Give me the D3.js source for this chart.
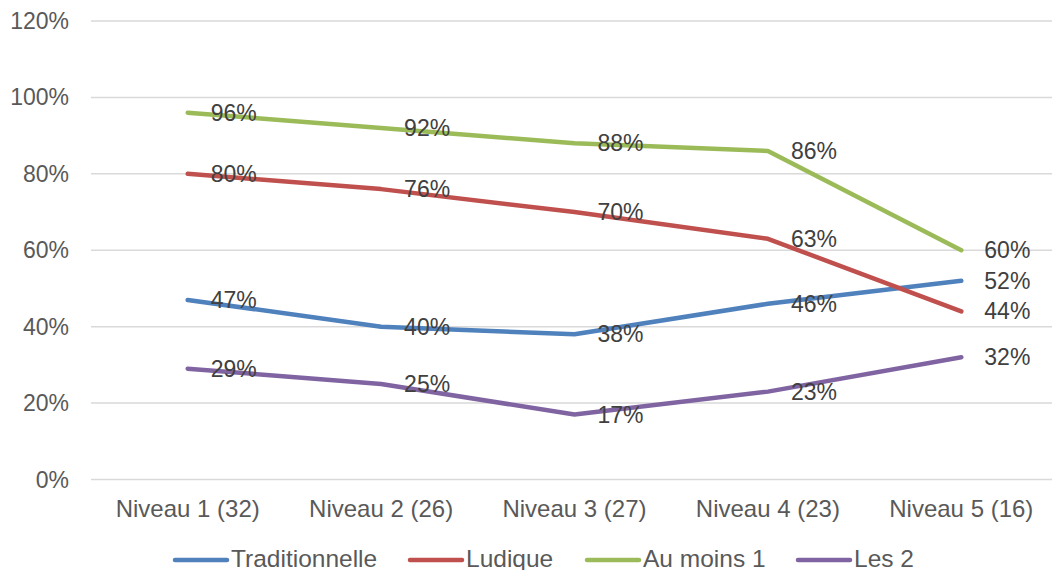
<!DOCTYPE html>
<html>
<head>
  <meta charset="UTF-8">
  <title></title>
  <style>
    body{ margin:0; background:#fff; font-family: Arial, 'Liberation Sans', sans-serif; }
    .grid line{ stroke:#d9d9d9; stroke-width:1.5px; }
    .ytick{ fill:#595959; font-size:23px; }
    .xtick{ fill:#595959; font-size:24px; }
    .legend text{ fill:#595959; font-size:24.5px; }
    .dlabel{ fill:#404040; font-size:23px; }
    .series{ fill:none; stroke-width:4.5px; stroke-linecap:round; stroke-linejoin:round; }
  </style>
</head>
<body>
  <script src="https://cdnjs.cloudflare.com/ajax/libs/d3/7.8.5/d3.min.js"></script>
  <script>
/// data
var categories = ["Niveau 1 (32)", "Niveau 2 (26)", "Niveau 3 (27)", "Niveau 4 (23)", "Niveau 5 (16)"];
var seriesNames = ["Traditionnelle", "Ludique", "Au moins 1", "Les 2"];
var traditionnelle = [47, 40, 38, 46, 52];
var ludique = [80, 76, 70, 63, 44];
var auMoins1 = [96, 92, 88, 86, 60];
var les2 = [29, 25, 17, 23, 32];
var yTicks = [0, 20, 40, 60, 80, 100, 120];
var colors = ["#4f81bd", "#c0504d", "#9bbb59", "#8064a2"];

var series = [traditionnelle, ludique, auMoins1, les2];

/// chart
var width = 1052, height = 570;
var svg = d3.select("body").append("svg")
    .attr("width", width)
    .attr("height", height);

var x = d3.scaleBand().domain(categories).range([91, 1058]);
var y = d3.scaleLinear().domain([0, 120]).range([479.5, 21]);

// gridlines
svg.append("g").attr("class", "grid")
  .selectAll("line")
  .data(yTicks)
  .enter().append("line")
    .attr("x1", x.range()[0])
    .attr("x2", x.range()[1])
    .attr("y1", function(d){ return y(d); })
    .attr("y2", function(d){ return y(d); });

// y labels
svg.append("g")
  .selectAll("text")
  .data(yTicks)
  .enter().append("text")
    .attr("class", "ytick")
    .attr("x", 69)
    .attr("y", function(d){ return y(d); })
    .attr("dy", "0.35em")
    .attr("text-anchor", "end")
    .text(function(d){ return d + "%"; });

// x labels
svg.append("g")
  .selectAll("text")
  .data(categories)
  .enter().append("text")
    .attr("class", "xtick")
    .attr("x", function(d){ return x(d) + x.bandwidth() / 2; })
    .attr("y", 517)
    .attr("text-anchor", "middle")
    .text(function(d){ return d; });

var line = d3.line()
    .x(function(d, i){ return x(categories[i]) + x.bandwidth() / 2; })
    .y(function(d){ return y(d); });

// lines
svg.append("g")
  .selectAll("path")
  .data(series)
  .enter().append("path")
    .attr("class", "series")
    .attr("stroke", function(d, i){ return colors[i]; })
    .attr("d", line);

// data labels
series.forEach(function(s){
  svg.append("g")
    .selectAll("text")
    .data(s)
    .enter().append("text")
      .attr("class", "dlabel")
      .attr("x", function(d, i){ return x(categories[i]) + x.bandwidth() / 2 + 23; })
      .attr("y", function(d){ return y(d); })
      .attr("dy", "0.35em")
      .text(function(d){ return d + "%"; });
});

// legend
var legendX = [173, 408, 585, 796];
var legend = svg.append("g").attr("class", "legend")
  .selectAll("g")
  .data(seriesNames)
  .enter().append("g")
    .attr("transform", function(d, i){ return "translate(" + legendX[i] + ",560)"; });
legend.append("line")
    .attr("x1", 2).attr("x2", 54)
    .attr("stroke", function(d, i){ return colors[i]; })
    .attr("stroke-width", 4.5)
    .attr("stroke-linecap", "round");
legend.append("text")
    .attr("x", 58)
    .attr("y", 7)
    .text(function(d){ return d; });
  </script>
</body>
</html>
